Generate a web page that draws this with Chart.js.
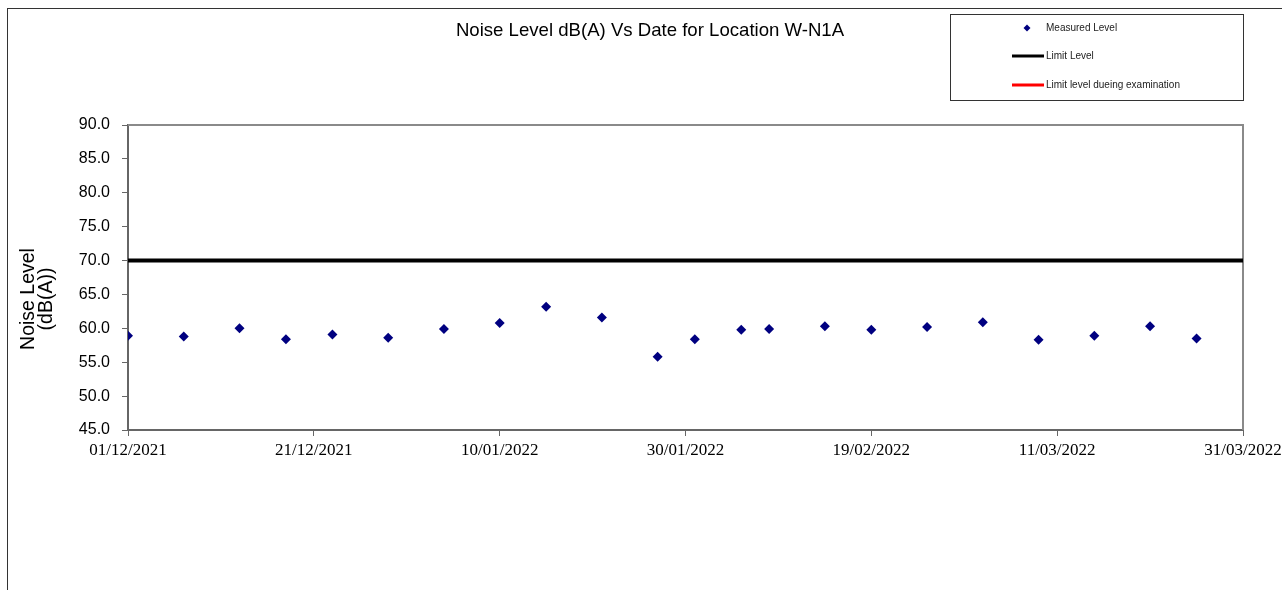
<!DOCTYPE html>
<html>
<head>
<meta charset="utf-8">
<title>Noise Level W-N1A</title>
<script src="https://cdn.jsdelivr.net/npm/chart.js@4"></script>
<style>
  html, body { margin: 0; padding: 0; background: #fff; }
  #frame { position: absolute; left: 7px; top: 8px; width: 1275px; height: 582px;
           border-left: 1px solid #333; border-top: 1px solid #333; }
  #wrap { position: absolute; left: 0; top: 0; width: 1282px; height: 590px; }
</style>
</head>
<body>
<div id="frame"></div>
<div id="wrap"><canvas id="noiseChart" width="1282" height="590"></canvas></div>
<script>
// measurement dates (dd/mm/yyyy) and levels in dB(A)
const measureDates = [
  '01/12/2021', '07/12/2021', '13/12/2021', '18/12/2021', '23/12/2021', '29/12/2021',
  '04/01/2022', '10/01/2022', '15/01/2022', '21/01/2022', '27/01/2022', '31/01/2022',
  '05/02/2022', '08/02/2022', '14/02/2022', '19/02/2022', '25/02/2022', '03/03/2022',
  '09/03/2022', '15/03/2022', '21/03/2022', '26/03/2022'
];
const measuredLevels = [
  58.9, 58.8, 60.0, 58.4, 59.1, 58.6,
  59.9, 60.8, 63.2, 61.6, 55.8, 58.4,
  59.8, 59.9, 60.3, 59.8, 60.2, 60.9,
  58.3, 58.9, 60.3, 58.5
];
const limitDates = ['01/12/2021', '31/03/2022'];
const limitLevels = [70, 70];

const xTickLabels = ['01/12/2021', '21/12/2021', '10/01/2022', '30/01/2022', '19/02/2022', '11/03/2022', '31/03/2022'];
const yTickValues = [45, 50, 55, 60, 65, 70, 75, 80, 85, 90];
const yTitleLines = ['Noise Level', '(dB(A))'];

const DAY = 86400000;
function toDay(s) {
  const [d, m, y] = s.split('/').map(Number);
  return Date.UTC(y, m - 1, d) / DAY;
}
const startDay = toDay(xTickLabels[0]);
const endDay = toDay(xTickLabels[xTickLabels.length - 1]);

const measuredPoints = measureDates.map((d, i) => ({ x: toDay(d), y: measuredLevels[i] }));
const limitPoints = limitDates.map((d, i) => ({ x: toDay(d), y: limitLevels[i] }));

// grey frame on top/right of the plot plus the boxed legend
const framePlugin = {
  id: 'framePlugin',
  beforeDatasetsDraw(chart) {
    const { ctx, chartArea: a } = chart;
    ctx.save();
    ctx.strokeStyle = '#8a8a8a';
    ctx.lineWidth = 2;
    ctx.beginPath();
    ctx.moveTo(a.left, a.top);
    ctx.lineTo(a.right, a.top);
    ctx.lineTo(a.right, a.bottom);
    ctx.stroke();
    ctx.restore();
  },
  afterDraw(chart) {
    const ctx = chart.ctx;
    const box = { x: 950.5, y: 14.5, w: 293, h: 86 };
    ctx.save();
    ctx.fillStyle = '#fff';
    ctx.fillRect(box.x, box.y, box.w, box.h);
    ctx.strokeStyle = '#333';
    ctx.lineWidth = 1;
    ctx.strokeRect(box.x, box.y, box.w, box.h);
    ctx.font = '10px "Liberation Sans", Arial, sans-serif';
    ctx.textBaseline = 'middle';
    const rows = [28, 56, 85];
    chart.data.datasets.forEach((ds, i) => {
      const y = rows[i];
      if (ds.showLine === false) {
        ctx.fillStyle = ds.backgroundColor;
        ctx.beginPath();
        ctx.moveTo(1027, y - 3.5);
        ctx.lineTo(1030.5, y);
        ctx.lineTo(1027, y + 3.5);
        ctx.lineTo(1023.5, y);
        ctx.closePath();
        ctx.fill();
      } else {
        ctx.strokeStyle = ds.borderColor;
        ctx.lineWidth = 3;
        ctx.beginPath();
        ctx.moveTo(1012, y);
        ctx.lineTo(1044, y);
        ctx.stroke();
      }
      ctx.fillStyle = '#222';
      ctx.fillText(ds.label, 1046, y);
    });
    ctx.restore();
  }
};

// chart title and the two-line y axis caption
const textPlugin = {
  id: 'chartText',
  afterDraw(chart) {
    const ctx = chart.ctx;
    ctx.save();
    ctx.fillStyle = '#000';
    ctx.textAlign = 'center';
    ctx.textBaseline = 'middle';
    ctx.font = '18.6px "Liberation Sans", Arial, sans-serif';
    ctx.fillText('Noise Level dB(A) Vs Date for Location W-N1A', 650, 31);
    ctx.font = '19.5px "Liberation Sans", Arial, sans-serif';
    ctx.translate(0, 299);
    ctx.rotate(-Math.PI / 2);
    yTitleLines.forEach((t, i) => ctx.fillText(t, 0, 29 + i * 18));
    ctx.restore();
  }
};

new Chart(document.getElementById('noiseChart'), {
  type: 'scatter',
  data: {
    datasets: [
      {
        label: 'Measured Level',
        data: measuredPoints,
        showLine: false,
        pointStyle: 'rectRot',
        pointRadius: 5,
        backgroundColor: '#000080',
        borderColor: '#000080',
        borderWidth: 0
      },
      {
        label: 'Limit Level',
        data: limitPoints,
        showLine: true,
        borderColor: '#000',
        borderWidth: 4,
        pointRadius: 0
      },
      {
        label: 'Limit level dueing examination',
        data: [],
        showLine: true,
        borderColor: '#ff0000',
        borderWidth: 3,
        pointRadius: 0
      }
    ]
  },
  options: {
    responsive: false,
    animation: false,
    devicePixelRatio: 1,
    layout: { padding: { top: 125, left: 0, right: 39, bottom: 0 } },
    plugins: {
      legend: { display: false },
      tooltip: { enabled: false },
      title: { display: false }
    },
    scales: {
      x: {
        type: 'linear',
        min: startDay,
        max: endDay,
        afterBuildTicks(scale) {
          scale.ticks = xTickLabels.map(t => ({ value: toDay(t) }));
        },
        afterFit(scale) {
          scale.height = 160;
          scale.paddingLeft = 0;
          scale.paddingRight = 0;
        },
        grid: { drawOnChartArea: false, tickLength: 6, color: '#666' },
        border: { color: '#666', width: 2 },
        ticks: {
          color: '#000',
          font: { family: '"Liberation Serif", "Times New Roman", serif', size: 17 },
          padding: 4,
          maxRotation: 0,
          autoSkip: false,
          callback: (v, i) => xTickLabels[i]
        }
      },
      y: {
        min: 45,
        max: 90,
        afterBuildTicks(scale) {
          scale.ticks = yTickValues.map(v => ({ value: v }));
        },
        afterFit(scale) { scale.width = 128; },
        grid: { drawOnChartArea: false, tickLength: 6, color: '#666' },
        border: { color: '#666', width: 2 },
        ticks: {
          color: '#000',
          font: { family: '"Liberation Sans", Arial, sans-serif', size: 16 },
          padding: 12,
          callback: v => v.toFixed(1)
        }
      }
    }
  },
  plugins: [framePlugin, textPlugin]
});
</script>
</body>
</html>
